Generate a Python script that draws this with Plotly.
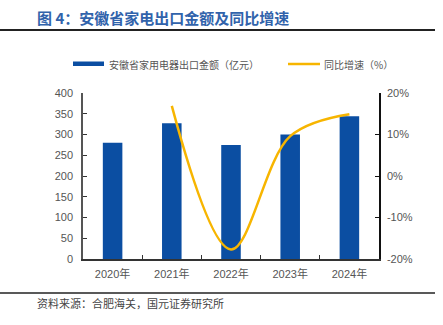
import plotly.graph_objects as go

years = ["2020年", "2021年", "2022年", "2023年", "2024年"]
export_value = [280, 327, 275, 300, 344]
yoy_years = ["2021年", "2022年", "2023年", "2024年"]
yoy_growth = [16.9, -17.7, 9.6, 14.9]
left_ticks = [0, 50, 100, 150, 200, 250, 300, 350, 400]
right_ticks = [-20, -10, 0, 10, 20]
right_ticktext = ["-20%", "-10%", "0%", "10%", "20%"]
bar_name = "安徽省家用电器出口金额（亿元）"
line_name = "同比增速（%）"

FONT = "Noto Sans CJK SC"
NUMFONT = "Liberation Sans, Noto Sans CJK SC"
BAR_C = "#0B4EA2"
LINE_C = "#F7B500"

# plot area in pixels
L, R, T, B = 83, 379, 93, 259
PW, PH = R - L, B - T


def px(x):
    return (x - L) / PW


def py(y):
    return (B - y) / PH


fig = go.Figure()
fig.add_trace(go.Bar(
    x=years, y=export_value, name=bar_name,
    marker=dict(color=BAR_C, line=dict(width=0)), width=0.33,
))
fig.add_trace(go.Scatter(
    x=yoy_years, y=yoy_growth, name=line_name, yaxis="y2",
    mode="lines", line=dict(color=LINE_C, width=2.5, shape="spline", smoothing=1.0),
))

fig.update_layout(
    width=443, height=325,
    margin=dict(l=L, r=443 - R, t=T, b=325 - B),
    plot_bgcolor="white", paper_bgcolor="white",
    font=dict(family=NUMFONT, size=11, color="#555555"),
    showlegend=False,
    xaxis=dict(
        type="category", range=[-0.5, 4.5],
        showline=True, linecolor="#333333", linewidth=1.5,
        ticks="inside", tickson="boundaries", ticklen=4, tickcolor="#333333",
        showgrid=False, tickfont=dict(size=11, color="#555555"),
        ticklabelstandoff=4,
    ),
    yaxis=dict(
        range=[0, 400], tickvals=left_ticks,
        showline=True, linecolor="#555555", linewidth=1.5,
        ticks="inside", ticklen=4, tickcolor="#333333",
        showgrid=False, zeroline=False, tickfont=dict(size=11, color="#555555"),
        ticklabelstandoff=6,
    ),
    yaxis2=dict(
        range=[-20, 20], tickvals=right_ticks, ticktext=right_ticktext,
        overlaying="y", side="right",
        showline=True, linecolor="#111111", linewidth=1.5,
        ticks="inside", ticklen=4, tickcolor="#111111",
        showgrid=False, zeroline=False, tickfont=dict(size=11, color="#555555"),
        ticklabelstandoff=4,
    ),
)

# title
fig.add_annotation(
    text="<b>图 4：安徽省家电出口金额及同比增速</b>", xref="paper", yref="paper",
    x=px(35), y=py(18), showarrow=False, xanchor="left", yanchor="middle",
    font=dict(family=FONT, size=15, color="#3163AB"),
)
# source
fig.add_annotation(
    text="资料来源：合肥海关，国元证券研究所", xref="paper", yref="paper",
    x=px(35), y=py(303), showarrow=False, xanchor="left", yanchor="middle",
    font=dict(family=FONT, size=11, color="#444444"),
)
# rules
fig.add_shape(type="line", xref="paper", yref="paper",
              x0=px(0), x1=px(435), y0=py(30), y1=py(30),
              line=dict(color="#222222", width=2))
fig.add_shape(type="line", xref="paper", yref="paper",
              x0=px(0), x1=px(435), y0=py(293), y1=py(293),
              line=dict(color="#222222", width=1.5))

# manual legend
fig.add_shape(type="rect", xref="paper", yref="paper",
              x0=px(73), x1=px(104), y0=py(66), y1=py(61.5),
              fillcolor=BAR_C, line=dict(width=0))
fig.add_annotation(
    text=bar_name, xref="paper", yref="paper",
    x=px(107), y=py(64), showarrow=False, xanchor="left", yanchor="middle",
    font=dict(family=FONT, size=10, color="#555555"),
)
fig.add_shape(type="line", xref="paper", yref="paper",
              x0=px(288), x1=px(320), y0=py(64), y1=py(64),
              line=dict(color=LINE_C, width=2.5))
fig.add_annotation(
    text=line_name, xref="paper", yref="paper",
    x=px(322), y=py(64), showarrow=False, xanchor="left", yanchor="middle",
    font=dict(family=FONT, size=10, color="#555555"),
)

fig.write_html("out.html")
